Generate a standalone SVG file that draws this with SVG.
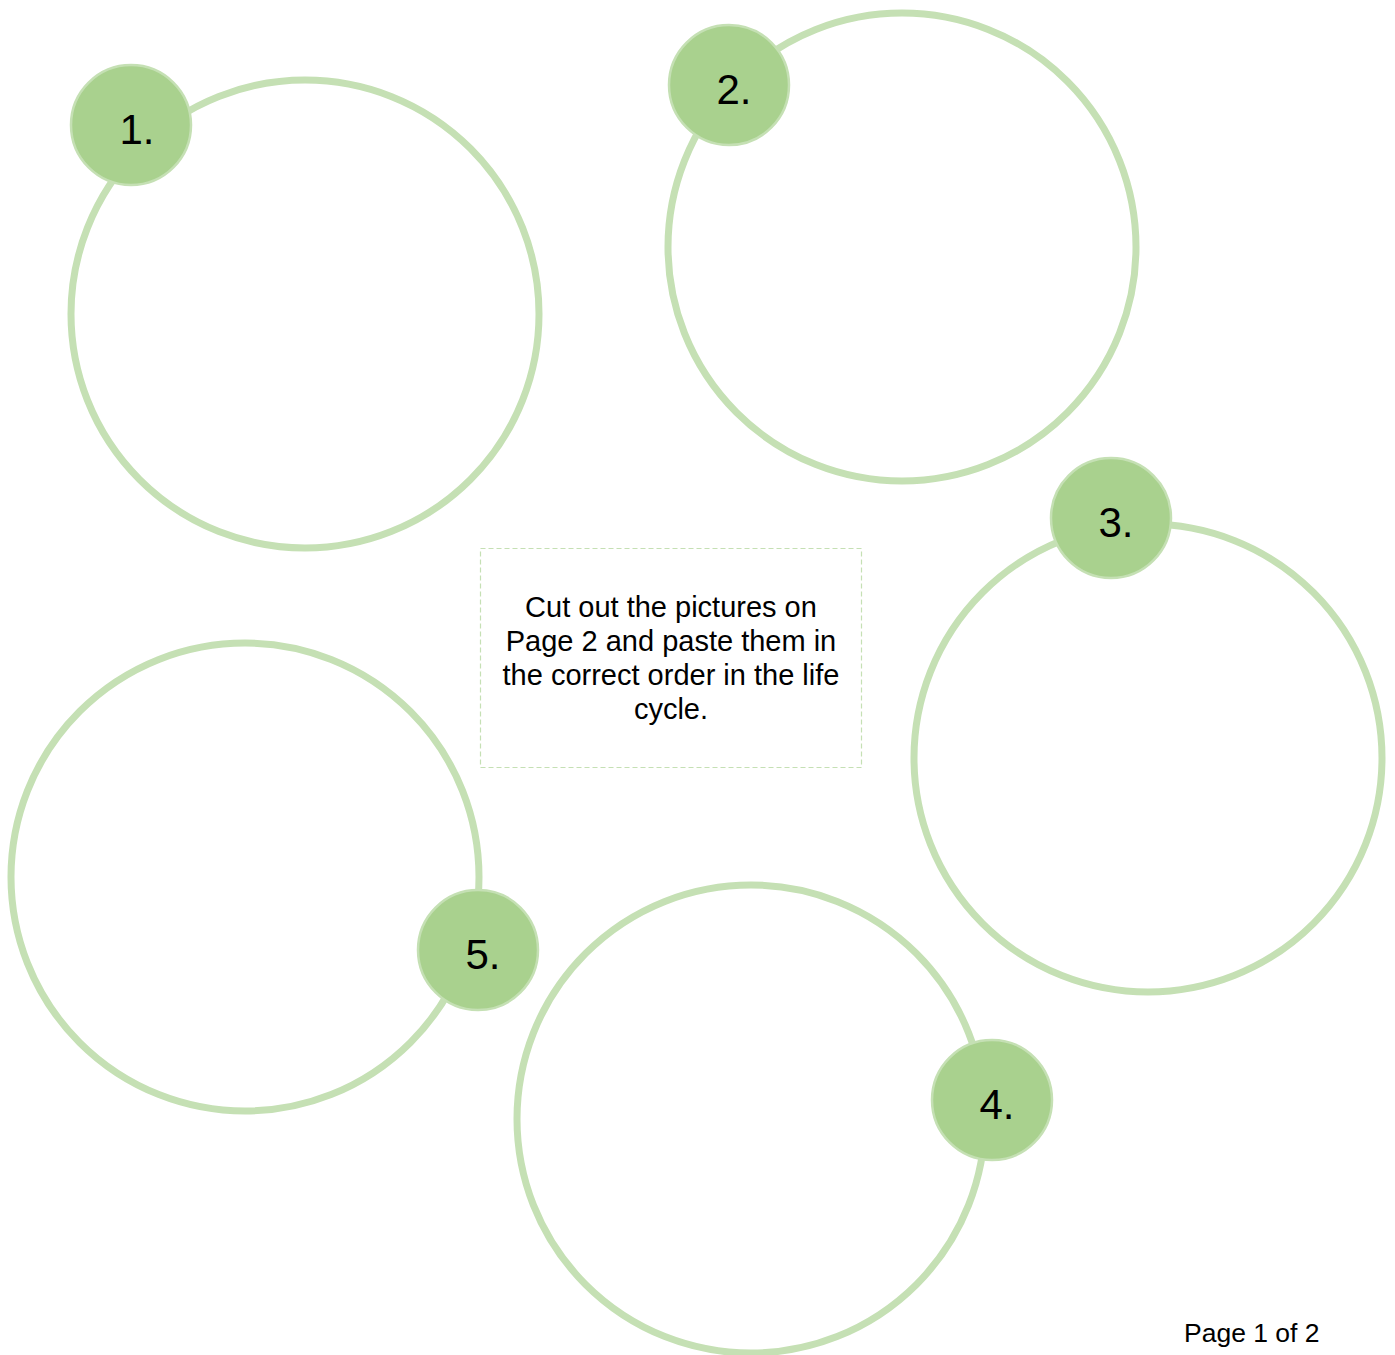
<svg xmlns="http://www.w3.org/2000/svg" width="1395" height="1355" viewBox="0 0 1395 1355">
<style>
.ring{fill:none;stroke:#c5e0b4;stroke-width:7}
.badge{fill:#a9d18e;stroke:#c5e0b4;stroke-width:2.5}
.num{font-family:"Liberation Sans",Arial,sans-serif;font-size:42px;fill:#000;text-anchor:middle}
.note{font-family:"Liberation Sans",Arial,sans-serif;font-size:29px;fill:#000;text-anchor:middle}
.page{font-family:"Liberation Sans",Arial,sans-serif;font-size:26.5px;fill:#000}
</style>
<rect width="1395" height="1355" fill="#fff"/>
<g id="step1"><circle class="ring" cx="305" cy="314" r="234"/><circle class="badge" cx="131" cy="125" r="60"/><text class="num" x="137" y="144">1.</text></g>
<g id="step2"><circle class="ring" cx="902" cy="247" r="234"/><circle class="badge" cx="729" cy="85" r="60"/><text class="num" x="734" y="104">2.</text></g>
<g id="step3"><circle class="ring" cx="1148" cy="758" r="234"/><circle class="badge" cx="1111" cy="518" r="60"/><text class="num" x="1116" y="537">3.</text></g>
<g id="step4"><circle class="ring" cx="751" cy="1119" r="234"/><circle class="badge" cx="992" cy="1100" r="60"/><text class="num" x="997" y="1119">4.</text></g>
<g id="step5"><circle class="ring" cx="245" cy="877" r="234"/><circle class="badge" cx="478" cy="950" r="60"/><text class="num" x="483" y="969">5.</text></g>
<g id="instructions">
<rect x="480.5" y="548.5" width="381" height="219" fill="none" stroke="#c5e0b4" stroke-width="1.2" stroke-dasharray="5,3"/>
<text class="note" x="671" y="617">Cut out the pictures on</text>
<text class="note" x="671" y="651">Page 2 and paste them in</text>
<text class="note" x="671" y="685">the correct order in the life</text>
<text class="note" x="671" y="719">cycle.</text>
</g>
<g id="connectors"></g>
<text class="page" x="1184" y="1342">Page 1 of 2</text>
</svg>
